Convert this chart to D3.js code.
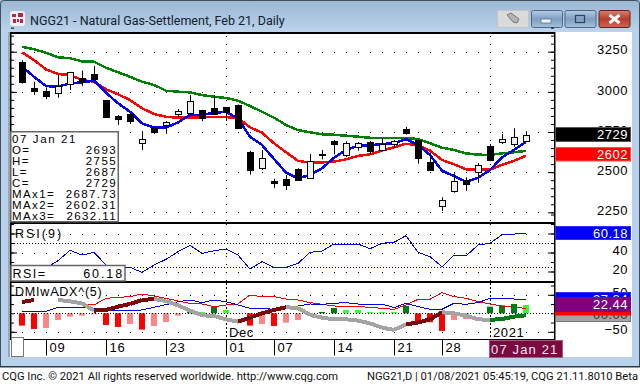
<!DOCTYPE html>
<html>
<head>
<meta charset="utf-8">
<script src="https://cdnjs.cloudflare.com/ajax/libs/d3/7.8.5/d3.min.js"></script>
<style>
  html, body { margin: 0; padding: 0; background: #fff; overflow: hidden; }
  svg { display: block; }
  text { font-family: "Liberation Sans", Arial, sans-serif; fill: #000; }
  .win { font-family: Roboto, sans-serif; }
</style>
</head>
<body>
<div id="chart"></div>
<script>
// candles, oldest first
const opens = [3184, 3024, 3005, 2997, 3047, 3084, 3109, 2949, 2848, 2862, 2680, 2777, 2789, 2858, 2864, 2885, 2898, 2903, 2918, 2625, 2521, 2447, 2457, 2518, 2468, 2611, 2696, 2605, 2655, 2688, 2638, 2671, 2769, 2700, 2561, 2285, 2381, 2449, 2499, 2663, 2686, 2673, 2693];
const highs = [3196, 3063, 3028, 3105, 3125, 3132, 3161, 2949, 2856, 2866, 2756, 2781, 2818, 2893, 2980, 2889, 2976, 2906, 2922, 2632, 2638, 2459, 2482, 2524, 2613, 2638, 2700, 2692, 2688, 2694, 2713, 2700, 2781, 2702, 2619, 2343, 2493, 2468, 2557, 2675, 2738, 2773, 2755];
const lows = [3051, 2980, 2955, 2964, 3012, 3036, 3068, 2839, 2794, 2800, 2638, 2738, 2738, 2842, 2856, 2818, 2858, 2818, 2775, 2484, 2513, 2401, 2389, 2447, 2459, 2580, 2611, 2594, 2634, 2607, 2632, 2648, 2733, 2553, 2507, 2258, 2372, 2384, 2434, 2568, 2675, 2658, 2687];
const closes = [3059, 3007, 2976, 3038, 3122, 3057, 3080, 2845, 2829, 2820, 2705, 2752, 2810, 2879, 2941, 2833, 2862, 2870, 2777, 2515, 2586, 2437, 2422, 2451, 2571, 2607, 2675, 2680, 2680, 2634, 2675, 2692, 2746, 2590, 2509, 2325, 2443, 2424, 2543, 2577, 2705, 2717, 2729];

// moving averages
const ma1 = [3157, 3094, 3036, 3032, 3053, 3059, 3069, 2995, 2929, 2876, 2804, 2777, 2777, 2810, 2856, 2856, 2870, 2875, 2835, 2721, 2669, 2582, 2497, 2462, 2482, 2524, 2590, 2638, 2663, 2667, 2675, 2680, 2706, 2669, 2607, 2509, 2476, 2440, 2465, 2513, 2592, 2638, 2688];
const ma2 = [3246, 3198, 3140, 3111, 3105, 3074, 3063, 3016, 2985, 2949, 2898, 2862, 2845, 2839, 2839, 2842, 2842, 2843, 2837, 2779, 2746, 2680, 2624, 2571, 2559, 2561, 2565, 2580, 2601, 2611, 2634, 2655, 2677, 2667, 2634, 2576, 2549, 2518, 2515, 2515, 2546, 2571, 2602];
const ma3 = [3281, 3265, 3244, 3215, 3209, 3190, 3188, 3150, 3122, 3094, 3063, 3043, 3007, 3001, 2997, 2980, 2970, 2962, 2945, 2912, 2876, 2839, 2794, 2762, 2748, 2736, 2733, 2727, 2721, 2714, 2713, 2713, 2713, 2706, 2680, 2652, 2638, 2617, 2609, 2607, 2617, 2624, 2632];

const rsi = [19.5, 21.5, 23.7, 31.4, 42.3, 37.3, 40.2, 26.8, 22.6, 24.4, 19.1, 26.8, 32.8, 40.8, 47.6, 39.1, 41.9, 43.7, 37.3, 22.6, 30.3, 24.4, 24.4, 28.6, 40.2, 41.6, 48.9, 48.9, 48.9, 44, 49.7, 50.7, 57.7, 40.2, 35.6, 25, 37.3, 36.3, 47.9, 49.7, 58.7, 59.4, 60.18];

// DMI panel
const diPlus = [5.4, 5.4, 5.4, 16.2, 16.2, 15.3, 13.5, 7.2, 7.2, 8.1, 9, 16.2, 23.4, 31.5, 36, 28.8, 36, 31.5, 22.5, 13.5, 13.5, 10.8, 13.5, 19.8, 25.2, 24.3, 27, 28.8, 25.2, 22.5, 25.2, 15.3, 27, 18, 10.8, 10.8, 27, 24.3, 28.8, 40.5, 40.5, 38.7, 36];
const diMinus = [null, null, null, null, 36, 25.2, 22.5, 40.5, 43.2, 45, 52.2, 46.8, 40.5, 33.3, 27, 25.2, 18, 22.5, 25.2, 49.5, 45, 45, 38.7, 36, 28.8, 24.3, 19.8, 18, 18, 16.2, 13.5, 10.8, 22.5, 37.8, 37.8, 55.8, 45, 40.5, 31.5, 25.2, 19.8, 16.2, 13.5];
const adx = [30.6, 36, null, 36, 32.4, 27, 7.2, 9, 18, 25.2, 36, 38.7, 33.3, 21.6, 7.2, -5.4, -7.2, -16.2, -22.5, -11.7, 0, 9, 16.2, 14.4, -4.5, -11.7, -16.2, -16.2, -19.8, -27, -38.7, -45, -29.7, -25.2, -16.2, 2.7, 0, -6.3, -16.2, -18, -15.3, -9, -5.4];
const adxTone = ['up', 'up', 'flat', 'flat', 'flat', 'flat', 'flat', 'up', 'up', 'up', 'up', 'up', 'flat', 'flat', 'flat', 'flat', 'flat', 'flat', 'flat', 'up', 'up', 'up', 'up', 'flat', 'flat', 'flat', 'flat', 'flat', 'flat', 'flat', 'flat', 'flat', 'flat', 'up', 'up', 'up', 'flat', 'flat', 'flat', 'flat', 'down', 'down', 'down'];
const histogram = [-33.3, -42.3, -39.6, -18, -9, -6.3, -3, -31.5, -36.9, -28.8, -44, -34.2, -23.4, -6.3, 11.7, 3.6, 18, 9, -0.9, -33.3, -28.8, -34.2, -25.2, -18, 0, 3.6, 14.4, 9, 9, 3.6, 3.6, 3.6, 19.8, -23.4, -24, -47.7, -18, -15.3, -1.8, 18, 21.6, 25.2, 22.44];

// axis labels
const priceLabels = [3250, 3000, 2750, 2500, 2250];
const rsiLabels = [40, 20];
const dmiLabels = [50, -50];
const dateBars = [2, 7, 12, 17, 21, 26, 31, 35];
const dateLabels = ['09', '16', '23', '01', '07', '14', '21', '28'];
const monthBars = [17, 39];
const monthLabels = ['Dec', '2021'];
const infoNames = ['O=', 'H=', 'L=', 'C=', 'MAx1=', 'MAx2=', 'MAx3='];
const infoValues = ['2693', '2755', '2687', '2729', '2687.73', '2602.31', '2632.11'];

const width = 640, height = 384;
const svg = d3.select('#chart').append('svg').attr('width', width).attr('height', height);

const plotLeft = 11, plotRight = 554;
const x = d3.scaleLinear().domain([0, 42]).range([22, 526]);
const yPrice = d3.scaleLinear().domain([3250, 2250]).range([51.7, 212.3]);
const yRsi = d3.scaleLinear().domain([60, 20]).range([233.5, 271.5]);
const yDmi = d3.scaleLinear().domain([50, -50]).range([294.8, 331.8]);
const bars = d3.range(opens.length);
const dotBars = d3.range(44);

// window chrome
const defs = svg.append('defs');
const grad = (id, stops) => {
    const g = defs.append('linearGradient').attr('id', id).attr('x1', 0).attr('y1', 0).attr('x2', 0).attr('y2', 1);
    stops.forEach((c, i) => g.append('stop').attr('offset', i / (stops.length - 1)).attr('stop-color', c));
};
grad('titleGrad', ['#9db8d3', '#aac4de', '#bcd4ec']);
grad('btnGrad', ['#b4cde6', '#7f9fc0', '#a5c0da']);
grad('closeGrad', ['#d98070', '#b93c2c', '#c9685a']);
svg.append('rect').attr('width', width).attr('height', 367).attr('fill', '#b9d1ea');
svg.append('rect').attr('width', width).attr('height', 32).attr('fill', 'url(#titleGrad)');
svg.append('path').attr('d', 'M0.5,366 V4 Q0.5,0.5 4,0.5 H635 Q639.5,0.5 639.5,4 V366').attr('fill', 'none').attr('stroke', '#40505f');
svg.append('rect').attr('x', 0).attr('y', 366).attr('width', width).attr('height', 1.5).attr('fill', '#2c3a48');
svg.append('rect').attr('x', 0).attr('y', 368).attr('width', width).attr('height', 16).attr('fill', '#fff');
svg.append('rect').attr('x', 8).attr('y', 32).attr('width', 624).attr('height', 325).attr('fill', '#fff');
svg.append('rect').attr('x', 8).attr('y', 32).attr('width', 2).attr('height', 325).attr('fill', '#9aa6b2');

// app icon
svg.append('rect').attr('x', 10).attr('y', 11).attr('width', 15).attr('height', 15).attr('rx', 3).attr('fill', '#f4eef0');
[[12, 14, 4, 3], [18, 13, 5, 4], [13, 19, 3, 4], [17, 19, 2, 3], [20, 19, 3, 4]].forEach(d => {
    svg.append('rect').attr('x', d[0]).attr('y', d[1]).attr('width', d[2]).attr('height', d[3]).attr('fill', '#b02a4a');
});
svg.append('text').attr('class', 'win').attr('x', 30).attr('y', 24.5).attr('font-size', 12.5)
    .style('fill', '#10202c').text('NGG21 - Natural Gas-Settlement, Feb 21, Daily');

// title bar buttons
svg.append('rect').attr('x', 497.5).attr('y', 10.5).attr('width', 31).attr('height', 17).attr('fill', '#dadada').attr('stroke', '#c4c4c4');
svg.append('path').attr('d', 'M507,15 L511,13 L519,19 L517,23 L513,22 Z').attr('fill', '#b4b4b4').attr('stroke', '#777');
[[531, 'btnGrad', '#4b6a8a'], [564.5, 'btnGrad', '#4b6a8a'], [598.5, 'closeGrad', '#6a2018']].forEach(b => {
    svg.append('rect').attr('x', b[0] + 0.5).attr('y', 10.5).attr('width', 31).attr('height', 17).attr('rx', 2)
        .attr('fill', 'url(#' + b[1] + ')').attr('stroke', b[2]);
});
svg.append('rect').attr('x', 541).attr('y', 19).attr('width', 10).attr('height', 4).attr('fill', '#eef3f8').attr('stroke', '#4b6a8a').attr('stroke-width', 0.7);
svg.append('rect').attr('x', 575.5).attr('y', 15.5).attr('width', 9).attr('height', 7).attr('fill', 'none').attr('stroke', '#2f4258').attr('stroke-width', 1.2);
svg.append('path').attr('d', 'M609.5,15 L619.5,23 M619.5,15 L609.5,23').attr('stroke', '#fff').attr('stroke-width', 3);

// panel rules
svg.append('rect').attr('x', 10).attr('y', 32).attr('width', 545).attr('height', 2).attr('fill', '#000');
svg.append('rect').attr('x', 10).attr('y', 32).attr('width', 1.5).attr('height', 307).attr('fill', '#000');
svg.append('rect').attr('x', plotRight).attr('y', 32).attr('width', 1.5).attr('height', 308).attr('fill', '#000');
[222, 281].forEach(r => svg.append('rect').attr('x', 10).attr('y', r).attr('width', 545).attr('height', 2).attr('fill', '#000'));
svg.append('rect').attr('x', 10).attr('y', 339).attr('width', 545).attr('height', 1).attr('fill', '#000');

// grid dots
const dots = (rows, scale) => {
    svg.append('g').selectAll('rect')
        .data(d3.cross(dotBars, rows))
        .join('rect')
        .attr('x', d => Math.round(x(d[0])))
        .attr('y', d => Math.round(scale(d[1])))
        .attr('width', 1).attr('height', 1).attr('fill', '#000');
};
dots(priceLabels, yPrice);
dots([60, 40, 20], yRsi);
dots([50, -50], yDmi);

const vDots = (bar, y0, y1) => {
    svg.append('line')
        .attr('x1', Math.round(x(bar)) + 0.5).attr('x2', Math.round(x(bar)) + 0.5)
        .attr('y1', y0).attr('y2', y1)
        .attr('stroke', '#000').attr('stroke-dasharray', '1,7');
};
[17, 39].forEach(b => { vDots(b, 36, 222); vDots(b, 224, 281); });
[17, 39].forEach(b => {
    svg.append('line').attr('x1', Math.round(x(b)) + 0.5).attr('x2', Math.round(x(b)) + 0.5)
        .attr('y1', 283).attr('y2', 339).attr('stroke', '#000').attr('stroke-dasharray', '2,2');
});

const hDotted = (py, color) => {
    svg.append('line').attr('x1', plotLeft).attr('x2', plotRight)
        .attr('y1', Math.round(py) + 0.5).attr('y2', Math.round(py) + 0.5)
        .attr('stroke', color).attr('stroke-dasharray', '1,2');
};
hDotted(yRsi(50), '#000');
hDotted(yRsi(25), '#000090');

// axis ticks, both sides
const ticks = (scale, major, minor) => {
    [[plotRight, d3.axisLeft], [plotLeft, d3.axisRight]].forEach(side => {
        [[minor, 3], [major, 6]].forEach(t => {
            const a = svg.append('g').attr('transform', 'translate(' + side[0] + ',0)')
                .call(side[1](scale).tickValues(t[0]).tickSize(t[1]).tickFormat(''));
            a.select('.domain').remove();
        });
    });
};
ticks(yPrice, priceLabels, d3.range(2250, 3401, 50));
ticks(yRsi, [60, 40, 20], d3.range(20, 81, 10));
ticks(yDmi, dmiLabels, d3.range(-75, 76, 25));

// histogram goes under the dmi lines
const histColor = (v, i) => {
    const grow = i === 0 || Math.abs(v) > Math.abs(histogram[i - 1]);
    if (v < 0) return grow ? '#ff0000' : '#ff8585';
    return grow ? '#007a14' : '#33ff33';
};
svg.append('g').selectAll('rect')
    .data(histogram)
    .join('rect')
    .attr('x', (d, i) => x(i) - 3)
    .attr('width', 6)
    .attr('y', d => Math.min(yDmi(d), yDmi(0)))
    .attr('height', d => Math.abs(yDmi(d) - yDmi(0)))
    .attr('fill', histColor);
hDotted(yDmi(0), '#000');

const drawLine = (values, scale, color, w) => {
    const line = d3.line().defined(d => d !== null).x((d, i) => x(i)).y(d => scale(d));
    svg.append('path').attr('d', line(values))
        .attr('fill', 'none').attr('stroke', color).attr('stroke-width', w).attr('stroke-linejoin', 'round')
        .attr('shape-rendering', 'crispEdges');
};

drawLine(rsi, yRsi, '#0000e6', 1);
drawLine(diMinus, yDmi, '#f00000', 1);
drawLine(diPlus, yDmi, '#0000e6', 1);

// adx is coloured per segment
const toneColors = { up: '#7a0a0a', flat: '#a4a4a4', down: '#007a14' };
bars.slice(1).forEach(i => {
    if (adx[i] === null || adx[i - 1] === null) return;
    svg.append('line')
        .attr('x1', x(i - 1)).attr('y1', yDmi(adx[i - 1]))
        .attr('x2', x(i)).attr('y2', yDmi(adx[i]))
        .attr('stroke', toneColors[adxTone[i]]).attr('stroke-width', 4)
        .attr('shape-rendering', 'crispEdges');
});

drawLine(ma3, yPrice, '#008000', 2.5);
drawLine(ma2, yPrice, '#ff0000', 2.5);
drawLine(ma1, yPrice, '#0000ff', 2.5);

// candles sit on top of the averages
const candles = svg.append('g').selectAll('g').data(bars).join('g');
candles.append('line')
    .attr('x1', i => Math.round(x(i)) + 0.5).attr('x2', i => Math.round(x(i)) + 0.5)
    .attr('y1', i => yPrice(highs[i])).attr('y2', i => yPrice(lows[i]))
    .attr('stroke', '#000');
candles.append('rect')
    .attr('x', i => Math.round(x(i)) - 2.5)
    .attr('width', 6)
    .attr('y', i => Math.round(yPrice(Math.max(opens[i], closes[i]))) + 0.5)
    .attr('height', i => Math.max(1, Math.round(Math.abs(yPrice(opens[i]) - yPrice(closes[i])))))
    .attr('fill', i => closes[i] >= opens[i] ? '#f0f0f0' : '#000')
    .attr('stroke', '#000');

// right side value labels
const rightLabels = (scale, values) => {
    const a = svg.append('g').attr('transform', 'translate(628,0)')
        .call(d3.axisLeft(scale).tickValues(values).tickSize(0).tickFormat(d3.format('d')));
    a.select('.domain').remove();
    a.selectAll('text').attr('font-size', 13).attr('dy', '0.32em').attr('y', -2)
        .attr('x', 0).style('letter-spacing', '0.5px').style('font-family', '"Liberation Sans", Arial, sans-serif');
};
rightLabels(yPrice, priceLabels);
rightLabels(yRsi, rsiLabels);
rightLabels(yDmi, dmiLabels);

const tag = (y0, h, fill, border, label, color) => {
    svg.append('rect').attr('x', 555.5).attr('y', y0).attr('width', 75).attr('height', h).attr('fill', fill).attr('stroke', border);
    svg.append('text').attr('x', 628).attr('y', y0 + h / 2 + 4.5).attr('text-anchor', 'end').attr('font-size', 13)
        .style('letter-spacing', '0.5px').style('fill', color).text(label);
};
tag(127.5, 14, '#000', '#555', '2729', '#fff');
tag(147.5, 13.5, '#ff0000', '#ff5050', '2602', '#fff');
tag(226.5, 13, '#0000ff', '#3030ff', '60.18', '#fff');
tag(292.5, 13.5, '#0000ff', '#3030ff', '27.84', '#fff');
tag(308, 13.5, '#a4a4a4', '#777', '00.00', '#333');
tag(301.5, 13.5, '#ff0000', '#ff0000', '', '#fff');
tag(297.5, 14, '#800080', '#800080', '22.44', '#fff');

// date axis
const dateAxis = svg.append('g').attr('transform', 'translate(0,339.5)')
    .call(d3.axisBottom(x).tickValues(dateBars).tickSize(16).tickFormat((d, i) => dateLabels[i]));
dateAxis.select('.domain').remove();
dateAxis.selectAll('text').attr('x', 3).attr('y', 3).attr('dy', '0.71em').attr('text-anchor', 'start')
    .attr('font-size', 13).style('letter-spacing', '0.8px').style('font-family', '"Liberation Sans", Arial, sans-serif');
monthLabels.forEach((m, i) => {
    svg.append('text').attr('x', x(monthBars[i]) + 3).attr('y', 337).attr('font-size', 13)
        .style('letter-spacing', '0.6px').text(m);
});
svg.append('rect').attr('x', 11.5).attr('y', 337.5).attr('width', 12).attr('height', 19).attr('fill', '#fff').attr('stroke', '#777');
svg.append('rect').attr('x', 489.5).attr('y', 340.5).attr('width', 73).attr('height', 17).attr('fill', '#7a0a40').attr('stroke', '#a85a80');
svg.append('text').attr('x', 491).attr('y', 353.5).attr('font-size', 13).style('letter-spacing', '1.15px')
    .style('fill', '#f4e8ee').text('07 Jan 21');

// study names
svg.append('text').attr('x', 15).attr('y', 237.5).attr('font-size', 12.5).style('letter-spacing', '2px').text('RSI(9)');
svg.append('text').attr('x', 15).attr('y', 296).attr('font-size', 12.5).style('letter-spacing', '0.8px').text('DMIwADX^(5)');

// rsi readout box
svg.append('rect').attr('x', 11).attr('y', 265.5).attr('width', 114).attr('height', 15.5).attr('fill', '#fff').attr('stroke', '#666').attr('stroke-width', 1.5);
svg.append('text').attr('x', 12.5).attr('y', 277.5).attr('font-size', 12.5).style('letter-spacing', '1.5px').text('RSI=');
svg.append('text').attr('x', 124).attr('y', 277.5).attr('font-size', 12.5).attr('text-anchor', 'end').style('letter-spacing', '1.9px').text('60.18');

// info box
svg.append('rect').attr('x', 10.75).attr('y', 131.75).attr('width', 107.5).attr('height', 90).attr('fill', '#fff').attr('stroke', '#666').attr('stroke-width', 1.5);
svg.append('text').attr('x', 12).attr('y', 142.5).attr('font-size', 11.5).style('letter-spacing', '1.6px').text('07 Jan 21');
infoNames.forEach((n, i) => {
    const rowY = 153.5 + i * 11;
    svg.append('text').attr('x', 12).attr('y', rowY).attr('font-size', 11.5).style('letter-spacing', '1.4px').text(n);
    svg.append('text').attr('x', 117).attr('y', rowY).attr('text-anchor', 'end').attr('font-size', 11.5).style('letter-spacing', '1.4px').text(infoValues[i]);
});

// status bar
svg.append('text').attr('class', 'win').attr('x', 2).attr('y', 380).attr('font-size', 11.2).style('fill', '#111')
    .text('CQG Inc. © 2021 All rights reserved worldwide. http://www.cqg.com');
svg.append('text').attr('class', 'win').attr('x', 638).attr('y', 380).attr('text-anchor', 'end').attr('font-size', 11.2).style('fill', '#111')
    .text('NGG21,D | 01/08/2021 05:45:19, CQG 21.11.8010 Beta');
</script>
</body>
</html>
